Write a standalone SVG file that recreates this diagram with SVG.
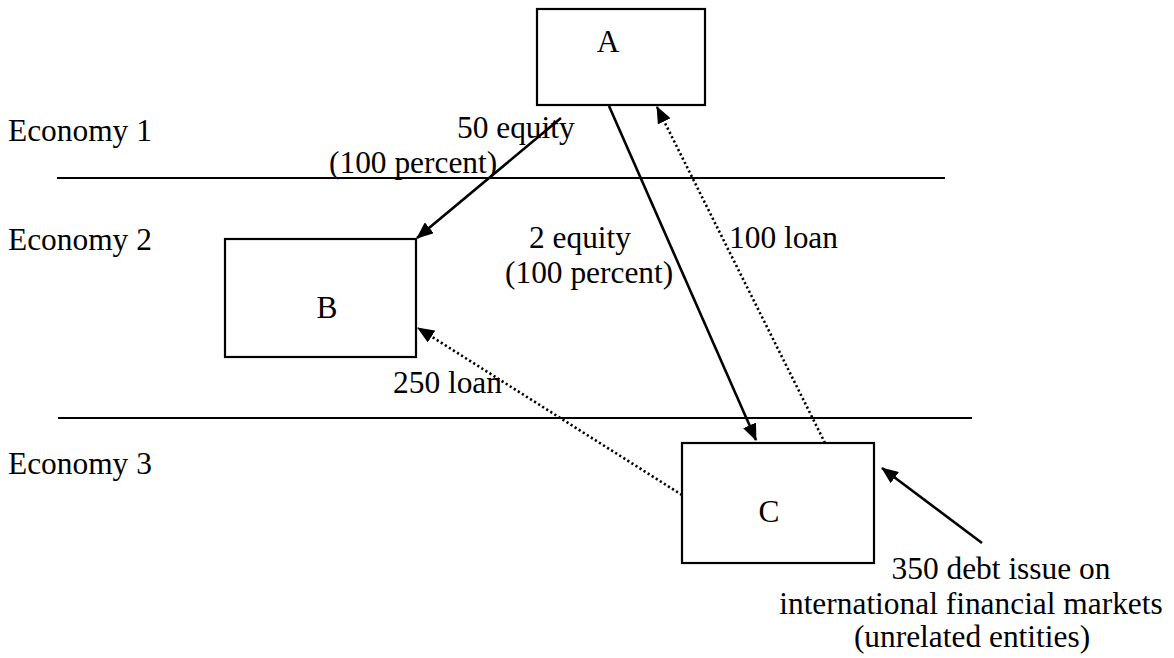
<svg xmlns="http://www.w3.org/2000/svg" width="1174" height="658" viewBox="0 0 1174 658">
<style>
  text { font-family: "Liberation Serif", "Times New Roman", serif; font-size: 31.4px; fill: #000; }
  .box { fill: #fff; stroke: #000; stroke-width: 2.2; }
  .sep { stroke: #000; stroke-width: 2; }
  .solid { stroke: #000; stroke-width: 2.6; fill: none; marker-end: url(#ah); }
  .dotted { stroke: #000; stroke-width: 2.6; fill: none; stroke-dasharray: 2.2 2.6; marker-end: url(#ah); }
</style>
<defs>
  <marker id="ah" viewBox="0 0 17 14" markerWidth="17" markerHeight="14" refX="16" refY="7" orient="auto" markerUnits="userSpaceOnUse">
    <path d="M0,0 L17,7 L0,14 z" fill="#000"/>
  </marker>
</defs>
<rect width="1174" height="658" fill="#fff"/>
<g id="separators">
  <line class="sep" x1="57" y1="178" x2="945" y2="178"/>
  <line class="sep" x1="58" y1="418" x2="972" y2="418"/>
</g>
<g id="economy-labels">
  <text x="8" y="141">Economy 1</text>
  <text x="8" y="250">Economy 2</text>
  <text x="8" y="474">Economy 3</text>
</g>
<g id="node-A">
  <rect class="box" x="537" y="9" width="168" height="96"/>
  <text x="608" y="52" text-anchor="middle">A</text>
</g>
<g id="node-B">
  <rect class="box" x="225" y="239" width="191" height="118"/>
  <text x="327" y="318" text-anchor="middle">B</text>
</g>
<g id="node-C">
  <rect class="box" x="682" y="443" width="192" height="120"/>
  <text x="769" y="522" text-anchor="middle">C</text>
</g>
<g id="connectors">
  <line class="solid" x1="561" y1="118" x2="417" y2="238"/>
  <line class="solid" x1="609" y1="106" x2="756" y2="440"/>
  <line class="dotted" x1="825" y1="443" x2="657" y2="107"/>
  <line class="dotted" x1="682" y1="495" x2="418" y2="328"/>
  <line class="solid" x1="982" y1="543" x2="882" y2="468"/>
</g>
<g id="connector-labels">
  <text x="457" y="138">50 equity</text>
  <text x="329" y="173">(100 percent)</text>
  <text x="529" y="248">2 equity</text>
  <text x="505" y="283">(100 percent)</text>
  <text x="729" y="248">100 loan</text>
  <text x="393" y="393">250 loan</text>
  <text x="1001" y="579" text-anchor="middle">350 debt issue on</text>
  <text x="971" y="614" text-anchor="middle">international financial markets</text>
  <text x="972" y="647" text-anchor="middle">(unrelated entities)</text>
</g>
</svg>
